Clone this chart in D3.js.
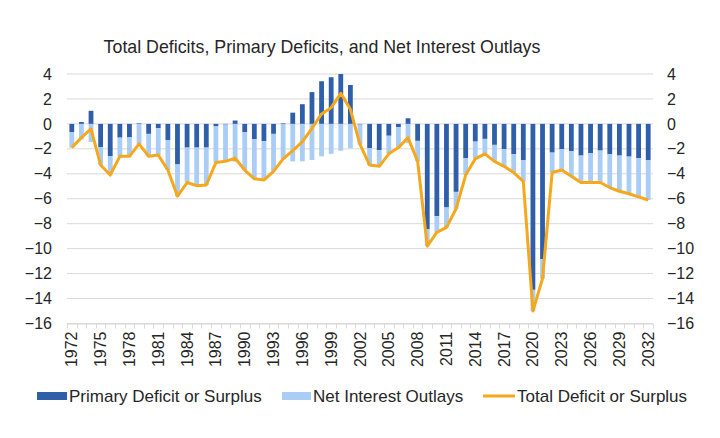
<!DOCTYPE html>
<html>
<head>
<meta charset="utf-8">
<script src="https://cdn.jsdelivr.net/npm/d3@7/dist/d3.min.js"></script>
<style>
  html, body { margin: 0; padding: 0; background: #ffffff; }
  svg { display: block; font-family: "Liberation Sans", Arial, sans-serif; }
</style>
</head>
<body>
<svg id="chart" width="720" height="438"></svg>
<script>
// ---- Data (percent of GDP) ----
const years = d3.range(1972, 2033);
const primary = [
  -0.65, 0.15, 1.05, -1.85, -2.6, -1.1, -1.05, 0.05, -0.8, -0.35,
  -1.3, -3.25, -1.9, -1.9, -1.9, -0.2, -0.05, 0.27, -0.65, -1.23,
  -1.38, -0.8, 0.05, 0.9, 1.58, 2.55, 3.42, 3.74, 4.0, 3.12,
  -0.05, -1.95, -2.1, -0.95, -0.27, 0.45, -1.36, -8.45, -7.4, -6.7,
  -5.45, -2.75, -1.42, -1.2, -1.68, -2.03, -2.43, -2.9, -13.3, -10.85,
  -2.3, -2.03, -2.2, -2.54, -2.35, -2.14, -2.43, -2.54, -2.62, -2.75,
  -2.9
];
const netInterest = [
  -1.25, -1.25, -1.45, -1.45, -1.5, -1.5, -1.55, -1.65, -1.8, -2.15,
  -2.4, -2.55, -2.8, -3.05, -3.0, -2.9, -2.95, -3.02, -3.05, -3.17,
  -3.12, -3.0, -2.85, -3.0, -3.0, -2.9, -2.6, -2.4, -2.15, -1.95,
  -1.6, -1.35, -1.3, -1.45, -1.63, -1.55, -1.64, -1.35, -1.3, -1.6,
  -1.35, -1.35, -1.38, -1.2, -1.32, -1.37, -1.47, -1.7, -1.7, -1.55,
  -1.6, -1.67, -2.0, -2.16, -2.35, -2.56, -2.67, -2.86, -2.98, -3.1,
  -3.2
];
const total = [
  -1.9, -1.1, -0.4, -3.3, -4.1, -2.6, -2.6, -1.6, -2.6, -2.5,
  -3.7, -5.8, -4.7, -4.95, -4.9, -3.1, -3.0, -2.75, -3.7, -4.4,
  -4.5, -3.8, -2.8, -2.15, -1.42, -0.35, 0.8, 1.3, 2.45, 1.17,
  -1.65, -3.3, -3.4, -2.4, -1.9, -1.1, -3.0, -9.8, -8.7, -8.3,
  -6.8, -4.1, -2.8, -2.4, -3.0, -3.4, -3.9, -4.6, -15.0, -12.4,
  -3.9, -3.7, -4.2, -4.7, -4.7, -4.7, -5.1, -5.4, -5.6, -5.85,
  -6.1
];
const yTicks = [4, 2, 0, -2, -4, -6, -8, -10, -12, -14, -16];
const xTickYears = d3.range(1972, 2033, 3);
const title = "Total Deficits, Primary Deficits, and Net Interest Outlays";
const legendLabels = ["Primary Deficit or Surplus", "Net Interest Outlays", "Total Deficit or Surplus"];

const colors = { primary: "#2f5fa9", interest: "#a9cdf4", total: "#f5a81c", grid: "#d9d9d9", text: "#262626" };

// ---- Layout ----
const svg = d3.select("#chart");
const margin = { left: 67, right: 67, top: 74, bottom: 114.5 };
const W = 720, H = 438;
const x0 = margin.left, x1 = W - margin.right;
const y0 = margin.top, y1 = H - margin.bottom;

const x = d3.scaleBand().domain(years).range([x0, x1]).paddingInner(0.5).paddingOuter(0.25);
const xc = d => x(d) + x.bandwidth() / 2;
const y = d3.scaleLinear().domain([-16, 4]).range([y1, y0]);

// Title
svg.append("text")
  .attr("x", 322).attr("y", 53)
  .attr("text-anchor", "middle")
  .attr("font-size", 17.8)
  .attr("fill", colors.text)
  .text(title);

// Gridlines
svg.append("g")
  .selectAll("line")
  .data(yTicks)
  .join("line")
  .attr("x1", x0).attr("x2", x1)
  .attr("y1", d => y(d)).attr("y2", d => y(d))
  .attr("stroke", colors.grid).attr("stroke-width", 1);

// Left axis
const leftAxis = d3.axisLeft(y).tickValues(yTicks).tickSize(0).tickPadding(15).tickFormat(d3.format("d"));
const gl = svg.append("g").attr("transform", `translate(${x0},0)`).call(leftAxis);
gl.select(".domain").remove();
gl.selectAll("text").attr("font-size", 16).attr("fill", colors.text).attr("font-family", "Liberation Sans, Arial, sans-serif");

// Right axis
const rightAxis = d3.axisRight(y).tickValues(yTicks).tickSize(0).tickPadding(14).tickFormat(d3.format("d"));
const gr = svg.append("g").attr("transform", `translate(${x1},0)`).call(rightAxis);
gr.select(".domain").remove();
gr.selectAll("text").attr("font-size", 16).attr("fill", colors.text).attr("font-family", "Liberation Sans, Arial, sans-serif");

// Clip
svg.append("clipPath").attr("id", "plotclip")
  .append("rect").attr("x", x0).attr("y", y0).attr("width", x1 - x0).attr("height", y1 - y0);

const data = years.map((yr, i) => ({ yr, p: primary[i], ni: netInterest[i], t: total[i] }));

const bars = svg.append("g").attr("clip-path", "url(#plotclip)");
// Primary bars
bars.selectAll("rect.p")
  .data(data)
  .join("rect").attr("class", "p")
  .attr("x", d => x(d.yr))
  .attr("width", x.bandwidth())
  .attr("y", d => y(Math.max(0, d.p)))
  .attr("height", d => Math.abs(y(d.p) - y(0)))
  .attr("fill", colors.primary);
// Net interest bars (stacked below negative primary, else from zero)
bars.selectAll("rect.ni")
  .data(data)
  .join("rect").attr("class", "ni")
  .attr("x", d => x(d.yr))
  .attr("width", x.bandwidth())
  .attr("y", d => y(Math.min(0, d.p)))
  .attr("height", d => Math.abs(y(Math.min(0, d.p) + d.ni) - y(Math.min(0, d.p))))
  .attr("fill", colors.interest);

// Bottom axis line and ticks
const axisG = svg.append("g");
axisG.append("line")
  .attr("x1", x0).attr("x2", x1).attr("y1", y1 + 0.5).attr("y2", y1 + 0.5)
  .attr("stroke", colors.grid);
const step = x.step();
const boundaries = years.map(yr => xc(yr) - step / 2).concat([xc(years[years.length - 1]) + step / 2]);
axisG.selectAll("line.tk")
  .data(boundaries)
  .join("line").attr("class", "tk")
  .attr("x1", d => Math.round(d) + 0.5).attr("x2", d => Math.round(d) + 0.5)
  .attr("y1", y1).attr("y2", y1 + 5)
  .attr("stroke", colors.grid);

// X labels
axisG.selectAll("text.xl")
  .data(xTickYears)
  .join("text").attr("class", "xl")
  .attr("transform", d => `translate(${xc(d) + 5.5},${y1 + 8}) rotate(-90)`)
  .attr("text-anchor", "end")
  .attr("font-size", 16)
  .attr("fill", colors.text)
  .text(d => d);

// Total line
const line = d3.line().x(d => xc(d.yr)).y(d => y(d.t));
svg.append("path")
  .datum(data)
  .attr("d", line)
  .attr("fill", "none")
  .attr("stroke", colors.total)
  .attr("stroke-width", 3)
  .attr("stroke-linejoin", "round");

// Legend
const lg = svg.append("g").attr("font-size", 17).attr("fill", colors.text);
const ly = 396;
lg.append("rect").attr("x", 37).attr("y", ly - 4).attr("width", 30).attr("height", 8).attr("fill", colors.primary);
lg.append("text").attr("x", 69).attr("y", ly + 6).text(legendLabels[0]);
lg.append("rect").attr("x", 282).attr("y", ly - 4).attr("width", 29).attr("height", 8).attr("fill", colors.interest);
lg.append("text").attr("x", 313).attr("y", ly + 6).text(legendLabels[1]);
lg.append("line").attr("x1", 483).attr("x2", 515).attr("y1", ly).attr("y2", ly).attr("stroke", colors.total).attr("stroke-width", 3);
lg.append("text").attr("x", 517).attr("y", ly + 6).text(legendLabels[2]);
</script>
</body>
</html>
